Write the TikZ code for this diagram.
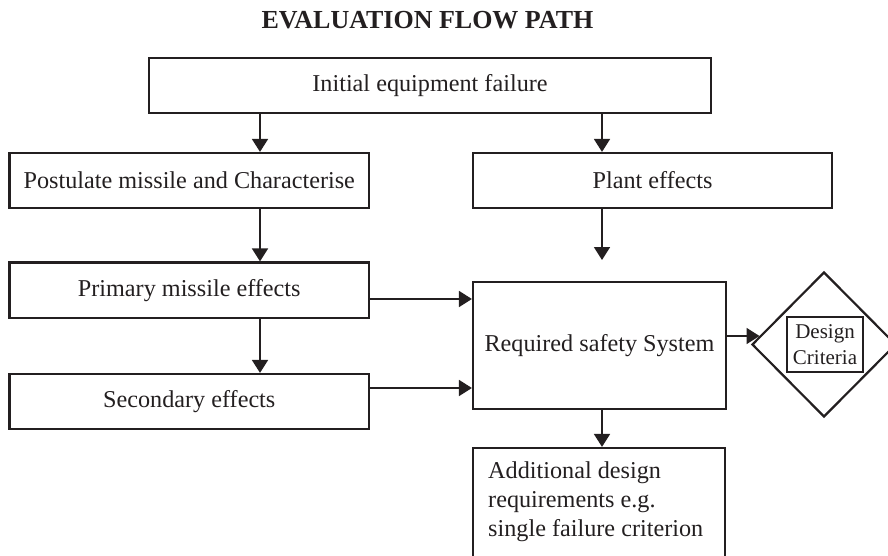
\documentclass[tikz,border=0pt]{standalone}
\usepackage{fontspec}
\setmainfont{Liberation Serif}
\usetikzlibrary{arrows.meta,shapes.geometric}
\definecolor{ink}{RGB}{35,31,32}
\begin{document}
\begin{tikzpicture}[x=1pt,y=-1pt,
  every node/.style={text=ink},
  box/.style={draw=ink, line width=2.2pt, inner sep=0pt,
    font=\fontsize{24.2}{29}\selectfont},
  arr/.style={draw=ink, line width=1.8pt, -{Triangle[width=16pt,length=13pt]}}]
\useasboundingbox (0,0) rectangle (888,556);
\begin{scope}
\clip (0,0) rectangle (888,556);
% title
\node[font=\fontsize{26}{30}\selectfont\bfseries] (title) at (427.5,20.5) {EVALUATION FLOW PATH};
% boxes
\node[box, minimum width=562pt, minimum height=55pt] (init) at (430,85.5) {Initial equipment failure};
\node[box, minimum width=359.5pt, minimum height=55pt] (post) at (189.25,180.5) {Postulate missile and Characterise};
\node[box, minimum width=359pt, minimum height=55pt] (plant) at (652.5,180.5) {Plant effects};
\node[box, minimum width=359.5pt, minimum height=55.5pt] (prim) at (189.25,290.25) {Primary missile effects};
\node[box, minimum width=359.5pt, minimum height=55pt] (sec) at (189.25,401.5) {Secondary effects};
\node[box, minimum width=253pt, minimum height=127pt] (req) at (599.5,345.5) {Required safety System};
\node[box, minimum width=252pt, minimum height=127pt] (add) at (599,511.5) {};
\node[font=\fontsize{24.2}{29}\selectfont, align=left, anchor=north west, inner sep=0pt] (addtxt) at (488,461.5)
  {Additional design\\requirements e.g.\\single failure criterion};
% diamond
\node[draw=ink, line width=2.2pt, shape=diamond, minimum width=144pt, minimum height=145pt, inner sep=0pt] (dia) at (824,344.5) {};
\node[box, minimum width=76pt, minimum height=55pt, align=center, font=\fontsize{21}{26}\selectfont] (dc) at (825,344.5) {Design\\Criteria};
% helper coordinates
\coordinate (xl) at (260,0);
\coordinate (xr) at (602,0);
\coordinate (ya) at (0,299);
\coordinate (yb) at (0,388);
\coordinate (yc) at (0,336);
\coordinate (ptip) at (602,260);
\coordinate (dtip) at (759.5,336);
% connectors
\draw[arr] (init.south -| xl) -- (post.north -| xl);
\draw[arr] (init.south -| xr) -- (plant.north -| xr);
\draw[arr] (post.south -| xl) -- (prim.north -| xl);
\draw[arr] (prim.south -| xl) -- (sec.north -| xl);
\draw[arr] (plant.south -| xr) -- (ptip);
\draw[arr] (prim.east |- ya) -- (req.west |- ya);
\draw[arr] (sec.east |- yb) -- (req.west |- yb);
\draw[arr] (req.east |- yc) -- (dtip);
\draw[arr] (req.south -| xr) -- (add.north -| xr);
\end{scope}
\end{tikzpicture}
\end{document}
